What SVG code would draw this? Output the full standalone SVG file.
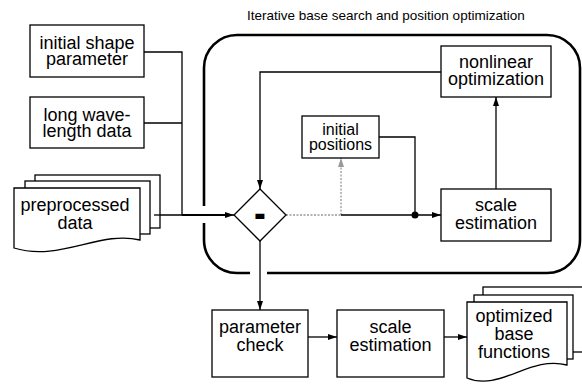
<svg xmlns="http://www.w3.org/2000/svg" width="582" height="386" viewBox="0 0 582 386">
<style>
.box{fill:#fff;stroke:#000;stroke-width:1.3}
.t{font-family:"Liberation Sans",Arial,Helvetica,sans-serif;font-size:18px;fill:#000;text-anchor:middle}
.ts{font-size:16px}
.ln{fill:none;stroke:#000;stroke-width:1.3}
.dot{fill:none;stroke:#999;stroke-width:1.3;stroke-dasharray:2,1.5}
</style>
<defs>
<marker id="a" viewBox="0 0 9 6" refX="9" refY="3" markerWidth="9" markerHeight="6" markerUnits="userSpaceOnUse" orient="auto"><path d="M0,0L9,3L0,6z" fill="#000"/></marker>
<marker id="g" viewBox="0 0 9 6" refX="9" refY="3" markerWidth="9" markerHeight="6" markerUnits="userSpaceOnUse" orient="auto"><path d="M0,0L9,3L0,6z" fill="#999"/></marker>
</defs>
<rect width="582" height="386" fill="#fff"/>
<text x="247" y="20" style="font-family:'Liberation Sans',Arial,sans-serif;font-size:13.5px">Iterative base search and position optimization</text>
<g id="container">
<path d="M204,223V240A33,33 0 0 0 237,273H250M267,273H547A33,33 0 0 0 580,240V68A33,33 0 0 0 547,35H237A33,33 0 0 0 204,68V206" fill="none" stroke="#000" stroke-width="2.6"/>
</g>
<g id="connectors">
<path class="ln" d="M144,52H182V215"/>
<path class="ln" d="M144,123H182"/>
<path class="ln" d="M154,215H234" marker-end="url(#a)"/>
<path d="M182,215H227" stroke="#000" stroke-width="2.2"/>
<path class="ln" d="M441,72H260V189" marker-end="url(#a)"/>
<path class="dot" d="M286,215H341"/>
<path class="dot" d="M341,215V158" marker-end="url(#g)"/>
<path class="ln" d="M341,215H441" marker-end="url(#a)"/>
<path class="ln" d="M379,137H415V215"/>
<circle cx="415" cy="215" r="3.5" fill="#000"/>
<path class="ln" d="M496,189V97" marker-end="url(#a)"/>
<path class="ln" d="M260,241V310" marker-end="url(#a)"/>
<path class="ln" d="M308,337H337" marker-end="url(#a)"/>
<path class="ln" d="M444,337H467" marker-end="url(#a)"/>
</g>
<g id="initial-shape">
<rect class="box" x="30" y="25" width="114" height="52"/>
<text class="t"><tspan x="87" y="49">initial shape</tspan><tspan x="87" y="65">parameter</tspan></text>
</g>
<g id="long-wavelength">
<rect class="box" x="30" y="97" width="114" height="51"/>
<text class="t"><tspan x="87" y="121">long wave-</tspan><tspan x="87" y="137">length data</tspan></text>
</g>
<g id="preprocessed">
<rect class="box" x="35" y="175" width="125" height="53"/>
<rect class="box" x="25" y="181" width="125" height="53"/>
<path class="box" d="M14,188H140V240C100,230 60,262 14,248Z"/>
<path class="ln" d="M154,215H160"/>
<text class="t"><tspan x="75" y="211">preprocessed</tspan><tspan x="75" y="229">data</tspan></text>
</g>
<g id="diff">
<polygon class="box" points="260,189 286,215 260,241 234,215"/>
<text x="260" y="223.5" style="font-family:'Liberation Sans',Arial,sans-serif;font-size:28px;font-weight:bold;text-anchor:middle;stroke:#000;stroke-width:1.8">-</text>
</g>
<g id="nonlinear">
<rect class="box" x="441" y="46" width="110" height="51"/>
<text class="t"><tspan x="496" y="68">nonlinear</tspan><tspan x="496" y="85">optimization</tspan></text>
</g>
<g id="initial-positions">
<rect class="box" x="302" y="116" width="77" height="42"/>
<text class="t ts"><tspan x="340.5" y="135">initial</tspan><tspan x="340.5" y="150">positions</tspan></text>
</g>
<g id="scale-estimation-1">
<rect class="box" x="441" y="189" width="110" height="52"/>
<text class="t"><tspan x="496" y="211">scale</tspan><tspan x="496" y="229">estimation</tspan></text>
</g>
<g id="parameter-check">
<rect class="box" x="212" y="310" width="96" height="67"/>
<text class="t"><tspan x="260" y="333">parameter</tspan><tspan x="260" y="351">check</tspan></text>
</g>
<g id="scale-estimation-2">
<rect class="box" x="337" y="310" width="107" height="67"/>
<text class="t"><tspan x="390.5" y="333">scale</tspan><tspan x="390.5" y="351">estimation</tspan></text>
</g>
<g id="optimized-base">
<rect class="box" x="483" y="287" width="120" height="65"/>
<rect class="box" x="474" y="295" width="99" height="64"/>
<path class="box" d="M467,302H567V365C530,355 500,392 467,378Z"/>
<text class="t"><tspan x="514" y="322">optimized</tspan><tspan x="514" y="340">base</tspan><tspan x="514" y="358">functions</tspan></text>
</g>
</svg>
